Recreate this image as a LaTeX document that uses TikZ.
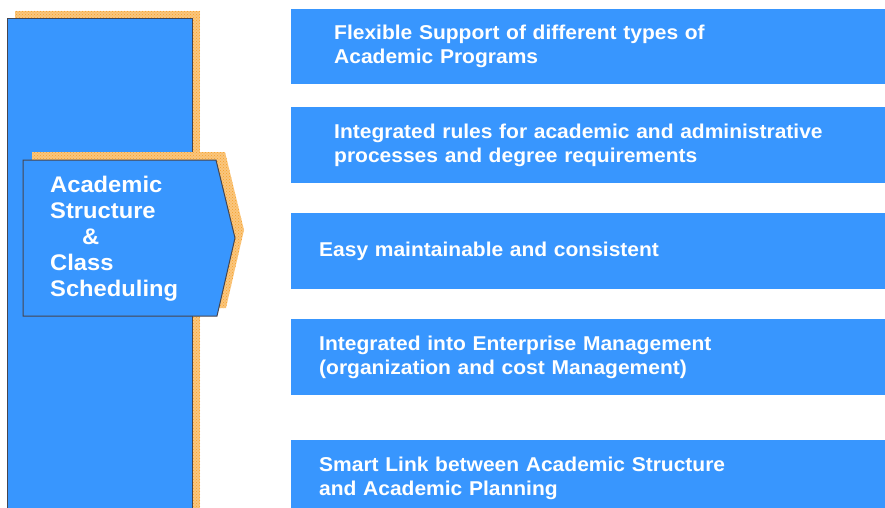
\documentclass[tikz,border=0pt]{standalone}
\usepackage{fontspec}
\setmainfont{Liberation Sans}[FakeStretch=1.05]
\usepackage{xcolor}
\usetikzlibrary{patterns}
\definecolor{boxblue}{RGB}{56,150,254}
\definecolor{shadeorange}{RGB}{246,160,40}
\definecolor{edgegray}{RGB}{70,70,80}

\begin{document}
\begin{tikzpicture}[x=1pt,y=-1pt,
  shadowfill/.style={fill=shadeorange!60, postaction={pattern=crosshatch dots, pattern color=shadeorange}},
  bluefill/.style={fill=boxblue, draw=edgegray, line width=1pt},
  featbox/.style={fill=boxblue, anchor=north west, align=left, text=white,
    font=\bfseries\fontsize{20}{24}\selectfont, minimum height=76pt}]
\clip (0,0) rectangle (885,508);

% left column with its shadow
\path[shadowfill] (15,11) rectangle (200,520);
\path[bluefill] (7,19) rectangle (192,520);

% arrow shaped label
\path[shadowfill] (32,152) -- (225,152) -- (244,230) -- (226,308) -- (32,308) -- cycle;
\path[bluefill] (23,160) coordinate (arrowtl) -- (216,160) -- (235,238) coordinate (arrowtip)
  -- (217,316) -- (23,316) coordinate (arrowbl) -- cycle;
\node[anchor=north west, inner sep=0pt, align=left, text=white,
  font=\bfseries\fontsize{22.6}{26}\selectfont] (structure) at (50,176)
  {Academic\\Structure\\\hspace*{32pt}\&\\Class\\Scheduling};

% feature boxes
\node[featbox, inner xsep=43pt, text width=508pt, minimum height=75pt] (flexible) at (291,9)
  {Flexible Support of different types of\\Academic Programs};
\node[featbox, inner xsep=43pt, text width=508pt] (rules) at (291,107)
  {Integrated rules for academic and administrative\\processes and degree requirements};
\node[featbox, inner xsep=28pt, text width=538pt] (maintain) at (291,213)
  {Easy maintainable and consistent};
\node[featbox, inner xsep=28pt, text width=538pt] (enterprise) at (291,319)
  {Integrated into Enterprise Management\\(organization and cost Management)};
\node[featbox, inner xsep=28pt, text width=538pt] (smartlink) at (291,440)
  {Smart Link between Academic Structure\\and Academic Planning};
\end{tikzpicture}
\end{document}
